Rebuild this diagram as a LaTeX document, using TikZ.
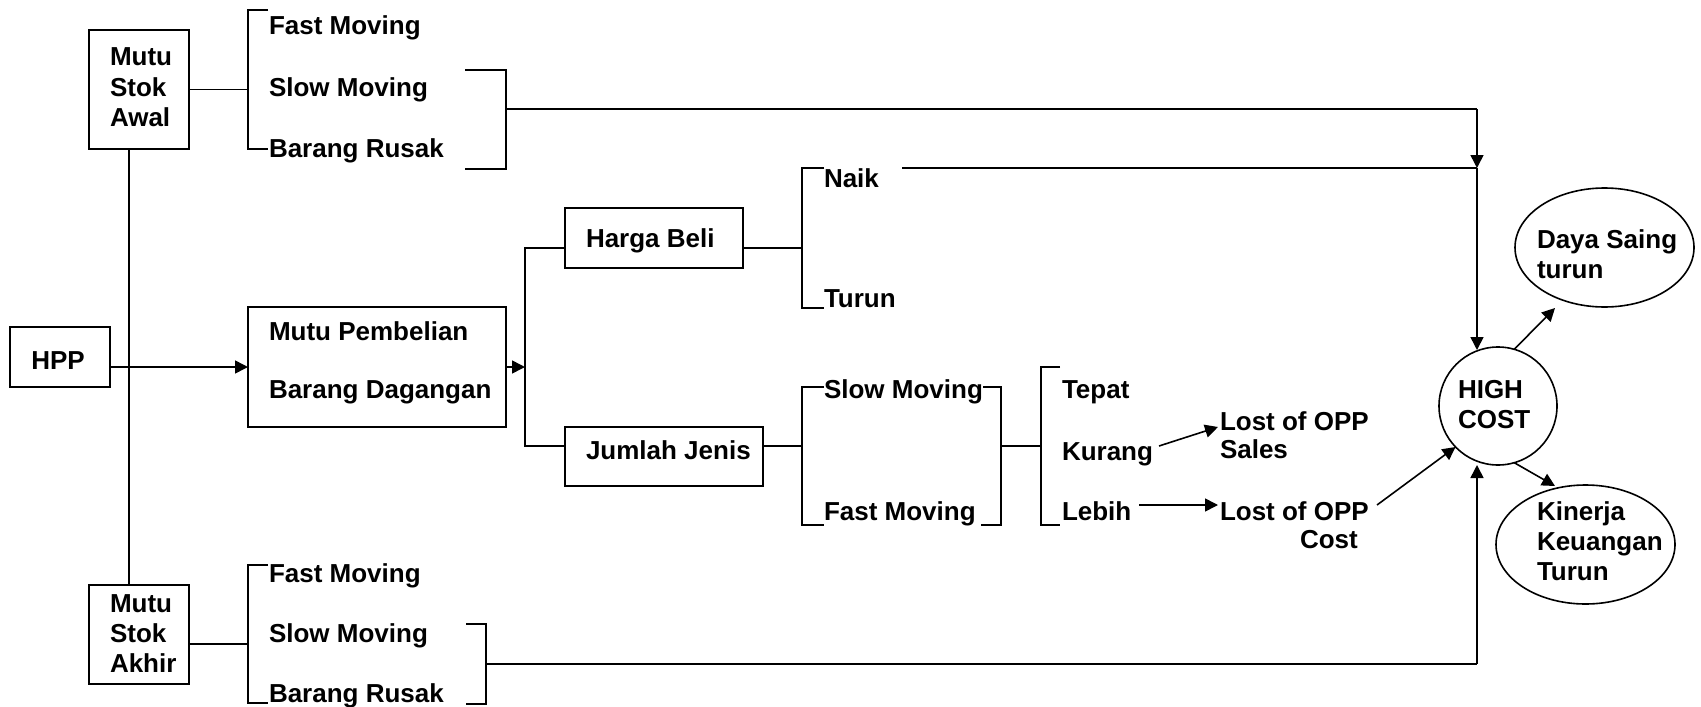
\documentclass[tikz,border=0pt]{standalone}
\usepackage{fontspec}
\setmainfont{Liberation Sans}
\usetikzlibrary{arrows.meta,shapes.geometric}
\begin{document}
\begin{tikzpicture}[x=1pt,y=-1pt,
  ln/.style={line width=1.6pt},
  arr/.style={line width=1.6pt,-{Triangle[length=13pt,width=13pt]}},
  boxn/.style={draw,line width=1.6pt,rectangle,inner sep=0pt,outer sep=0pt},
  oval/.style={draw,line width=1.6pt,ellipse,inner sep=0pt,outer sep=0pt},
  txt/.style={anchor=base west,inner sep=0pt,outer sep=0pt,font=\fontsize{26}{30}\selectfont\bfseries}]
\useasboundingbox (0,0) rectangle (1701,707);

% boxes
\node[boxn,minimum width=100pt,minimum height=119pt] (awal) at (139,89.5) {};
\node[txt] (awal1) at (110,65) {Mutu};
\node[txt] (awal2) at (110,96) {Stok};
\node[txt] (awal3) at (110,126) {Awal};

\node[boxn,minimum width=100pt,minimum height=99pt] (akhir) at (139,634.5) {};
\node[txt] (akhir1) at (110,612) {Mutu};
\node[txt] (akhir2) at (110,642) {Stok};
\node[txt] (akhir3) at (110,672) {Akhir};

\node[boxn,minimum width=100pt,minimum height=60pt] (hpp) at (60,357) {};
\node[txt,anchor=base] (hppt) at (58,369) {HPP};

\node[boxn,minimum width=258pt,minimum height=120pt] (mp) at (377,367) {};
\node[txt] (mp1) at (269,340) {Mutu Pembelian};
\node[txt] (mp2) at (269,398) {Barang Dagangan};

\node[boxn,minimum width=178pt,minimum height=60pt] (harga) at (654,238) {};
\node[txt] (hargat) at (586,247) {Harga Beli};

\node[boxn,minimum width=198pt,minimum height=59pt] (jumlah) at (664,456.5) {};
\node[txt] (jumlaht) at (586,459) {Jumlah Jenis};

\node[draw,circle,line width=1.6pt,minimum size=118pt,inner sep=0pt,outer sep=0pt] (high) at (1498,406) {};
\node[txt] (high1) at (1458,398) {HIGH};
\node[txt] (high2) at (1458,428) {COST};

\node[oval,minimum width=179pt,minimum height=119pt] (daya) at (1604.5,247.5) {};
\node[txt] (daya1) at (1537,248) {Daya Saing};
\node[txt] (daya2) at (1537,278) {turun};

\node[oval,minimum width=179pt,minimum height=119pt] (kin) at (1585.5,544.5) {};
\node[txt] (kin1) at (1537,520) {Kinerja};
\node[txt] (kin2) at (1537,550) {Keuangan};
\node[txt] (kin3) at (1537,580) {Turun};

% group texts
\node[txt] (fm1) at (269,34) {Fast Moving};
\node[txt] (sm1) at (269,96) {Slow Moving};
\node[txt] (br1) at (269,157) {Barang Rusak};
\node[txt] (fm2) at (269,582) {Fast Moving};
\node[txt] (sm2) at (269,642) {Slow Moving};
\node[txt] (br2) at (269,702) {Barang Rusak};
\node[txt] (naik) at (824,187) {Naik};
\node[txt] (turun) at (824,307) {Turun};
\node[txt] (sm3) at (824,398) {Slow Moving};
\node[txt] (fm3) at (824,520) {Fast Moving};
\node[txt] (tepat) at (1062,398) {Tepat};
\node[txt] (kurang) at (1062,460) {Kurang};
\node[txt] (lebih) at (1062,520) {Lebih};
\node[txt] (los1) at (1220,430) {Lost of OPP};
\node[txt] (sales) at (1220,458) {Sales};
\node[txt] (los2) at (1220,520) {Lost of OPP};
\node[txt] (cost) at (1300,548) {Cost};

% coordinates
\coordinate (vx) at (129,0);
\coordinate (b1) at (248,89.5);
\coordinate (b2) at (248,644);
\coordinate (hl) at (525,248);
\coordinate (jl) at (525,446);
\coordinate (j1) at (525,367);
\coordinate (hr) at (802,248);
\coordinate (jr) at (802,446);
\coordinate (t1) at (506,109);
\coordinate (vt) at (1477,109);
\coordinate (vn) at (1477,168);
\coordinate (n0) at (902,168);
\coordinate (vh) at (1477,350);
\coordinate (u1) at (486,664);
\coordinate (vb) at (1477,664);
\coordinate (m1) at (1001,446);
\coordinate (m2) at (1041,446);
\coordinate (ka) at (1159,446);
\coordinate (kb) at (1218,427);
\coordinate (la) at (1139,505);
\coordinate (lb) at (1218,505);
\coordinate (ca) at (1377,505);
\coordinate (dt) at (1555,308);
\coordinate (kt) at (1555,486);

% brackets
\draw[ln] (268,10) -- (248,10) -- (248,149) -- (268,149);
\draw[ln] (465,70) -- (506,70) -- (506,169) -- (465,169);
\draw[ln] (268,565) -- (248,565) -- (248,703) -- (268,703);
\draw[ln] (466,624) -- (486,624) -- (486,704) -- (466,704);
\draw[ln] (824,168) -- (802,168) -- (802,308) -- (824,308);
\draw[ln] (824,387) -- (802,387) -- (802,525) -- (824,525);
\draw[ln] (983,387) -- (1001,387) -- (1001,525) -- (981,525);
\draw[ln] (1060,367) -- (1041,367) -- (1041,525) -- (1060,525);

% connectors
\draw[ln] (awal.east) -- (b1);
\draw[ln] (akhir.east |- b2) -- (b2);
\draw[ln] (awal.south -| vx) -- (akhir.north -| vx);
\draw[arr] (hpp.east |- mp.west) -- (mp.west);
\draw[arr] (mp.east) -- (j1);
\draw[ln] (harga.west |- hl) -- (hl) -- (jl) -- (jumlah.west |- jl);
\draw[ln] (harga.east |- hr) -- (hr);
\draw[ln] (jumlah.east |- jr) -- (jr);
\draw[ln] (m1) -- (m2);
\draw[ln] (t1) -- (vt);
\draw[arr] (vt) -- (vn);
\draw[ln] (n0) -- (vn);
\draw[arr] (vn) -- (vh);
\draw[ln] (u1) -- (vb);
\draw[arr] (vb) -- (vb |- high.south);
\draw[arr] (ka) -- (kb);
\draw[arr] (la) -- (lb);
\draw[arr] (ca) -- (high.224);
\draw[arr] (high.74) -- (dt);
\draw[arr] (high.286) -- (kt);
\end{tikzpicture}
\end{document}
